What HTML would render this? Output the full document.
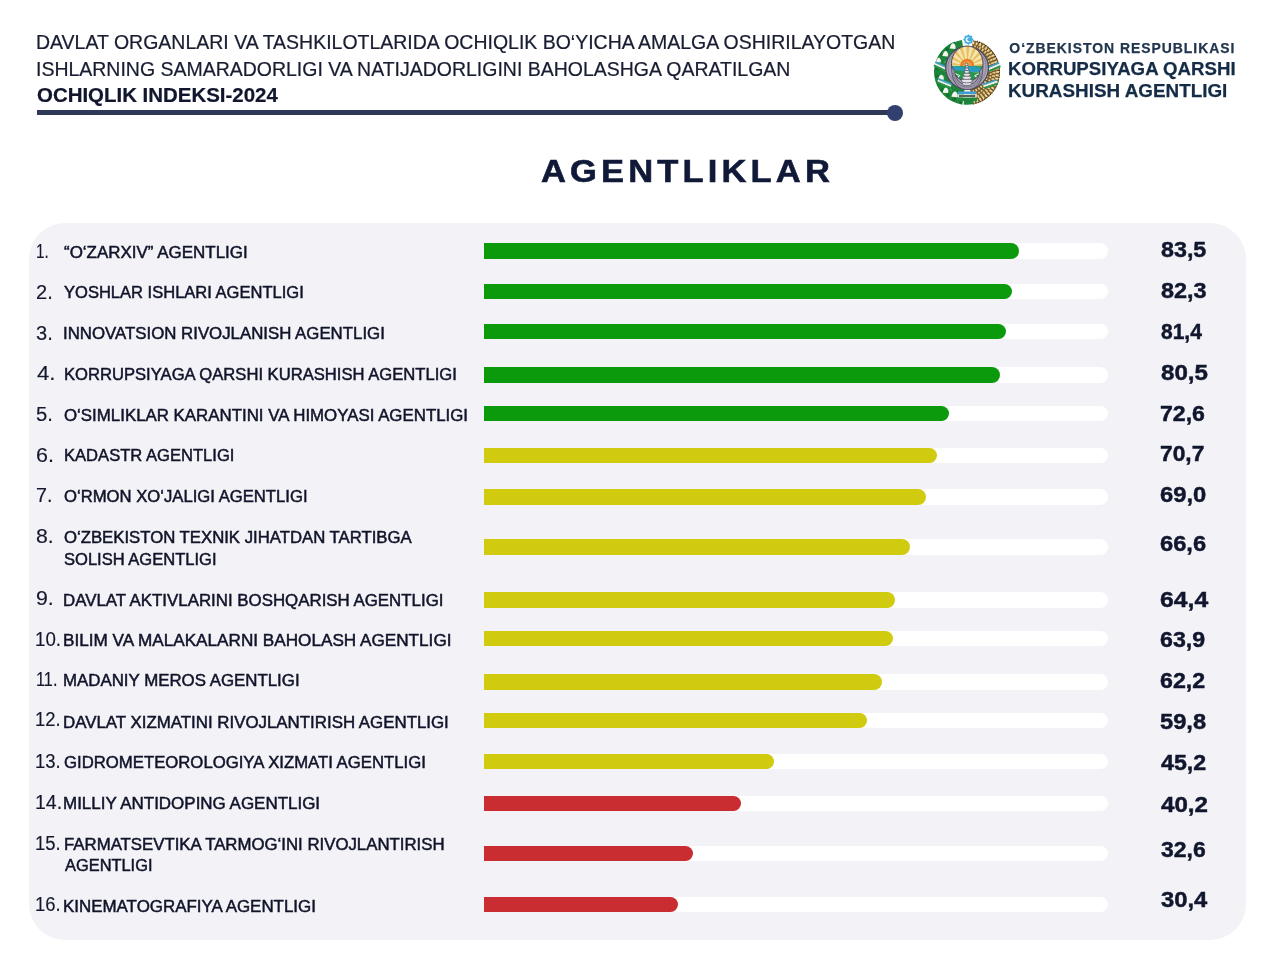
<!DOCTYPE html>
<html lang="uz">
<head>
<meta charset="utf-8">
<title>Ochiqlik indeksi-2024 — Agentliklar</title>
<style>

html,body{margin:0;padding:0;background:#fff;}
body{width:1280px;height:971px;position:relative;overflow:hidden;font-family:"Liberation Sans",sans-serif;}
header,main,.brand,ol,li{display:block;margin:0;padding:0;list-style:none;}
.t{position:absolute;display:block;white-space:nowrap;line-height:1;margin:0;padding:0;transform-origin:0 0;font-family:"Liberation Sans",sans-serif;}
.panel{position:absolute;left:29px;top:223px;width:1217px;height:717px;background:#f3f2f6;border-radius:36px;}
.rule{position:absolute;left:37px;top:110px;width:858px;height:4.5px;background:#2f3957;}
.dot{position:absolute;left:886.5px;top:104.5px;width:16px;height:16px;border-radius:50%;background:#31406f;}
.lb{-webkit-text-stroke:0.5px #10142a;}
.vl{-webkit-text-stroke:0.45px #10162e;}
.ttl{-webkit-text-stroke:0.6px #101a38;}
.hd{-webkit-text-stroke:0.22px currentColor;}
.lg{-webkit-text-stroke:0.25px currentColor;}
.nm{-webkit-text-stroke:0.15px #14182e;}
.track{position:absolute;left:484px;width:624px;background:#fff;border-radius:0 8px 8px 0;}
.fill{position:absolute;left:0;top:0;height:100%;border-radius:0 8px 8px 0;}

</style>
</head>
<body>
<header>
<p class="t hd" style="left:35.62px;top:33.23px;font-size:19.33px;font-weight:400;color:#191d31;letter-spacing:0.000px;transform:scaleX(1.0080);">DAVLAT ORGANLARI VA TASHKILOTLARIDA OCHIQLIK BO‘YICHA AMALGA OSHIRILAYOTGAN</p>
<p class="t hd" style="left:36.15px;top:59.53px;font-size:19.33px;font-weight:400;color:#191d31;letter-spacing:0.000px;transform:scaleX(1.0077);">ISHLARNING SAMARADORLIGI VA NATIJADORLIGINI BAHOLASHGA QARATILGAN</p>
<p class="t hd" style="left:36.85px;top:86.23px;font-size:19.33px;font-weight:700;color:#11162d;letter-spacing:0.000px;transform:scaleX(1.0575);">OCHIQLIK INDEKSI-2024</p>
<div class="rule"></div><div class="dot"></div>
<div class="brand">
<svg class="emblem" style="position:absolute;left:925px;top:28px" width="85" height="82" viewBox="925 28 85 82">
<path d="M956.81 46.78A27.2 27.2 0 0 0 963.21 98.94" fill="none" stroke="#1e843b" stroke-width="11.5" stroke-linecap="butt"/>
<path d="M962.56 43.95A28.4 28.4 0 0 0 955.45 46.06" fill="none" stroke="#1e843b" stroke-width="8"/>
<path d="M954.64 44.23A30.4 30.4 0 0 0 961.72 101.94" fill="none" stroke="#14702f" stroke-width="3.5" stroke-dasharray="3 4.5"/>
<path d="M956.57 50.61A23.8 23.8 0 0 0 962.05 95.28" fill="none" stroke="#2fa352" stroke-width="2.5" stroke-dasharray="2.5 5"/>
<path d="M977.19 46.78A27.2 27.2 0 0 1 971.72 98.79" fill="none" stroke="#7a5a28" stroke-width="11.5"/>
<path d="M972.42 44.12A28.4 28.4 0 0 1 978.55 46.06" fill="none" stroke="#7a5a28" stroke-width="8"/>
<path d="M972.69 42.75A29.8 29.8 0 0 1 979.12 44.78" fill="none" stroke="#ecd9a0" stroke-width="2.6" stroke-dasharray="1.7 1.5"/>
<path d="M972.53 45.98A26.599999999999998 26.599999999999998 0 0 1 977.82 47.70" fill="none" stroke="#e2c988" stroke-width="2.4" stroke-dasharray="1.6 1.5" stroke-dashoffset="1.4"/>
<path d="M979.41 44.14A30.5 30.5 0 0 1 973.34 101.83" fill="none" stroke="#ecd9a0" stroke-width="3.4" stroke-dasharray="1.8 1.6"/>
<path d="M977.55 47.15A27.0 27.0 0 0 1 972.15 98.50" fill="none" stroke="#e2c988" stroke-width="3" stroke-dasharray="1.7 1.6" stroke-dashoffset="1.6"/>
<path d="M975.77 50.30A23.4 23.4 0 0 1 971.06 95.04" fill="none" stroke="#ecd9a0" stroke-width="2.6" stroke-dasharray="1.6 1.6"/>
<path d="M977.01 41.19A32.4 32.4 0 0 1 972.63 103.91" fill="none" stroke="#4a3416" stroke-width="1.2" stroke-dasharray="1 1.4"/>
<path d="M948.00 72.00A19 19 0 0 0 964.36 90.82" fill="none" stroke="#1e843b" stroke-width="8"/>
<path d="M986.00 72.00A19 19 0 0 1 970.30 90.71" fill="none" stroke="#7a5a28" stroke-width="8"/>
<path d="M987.09 75.54A20.4 20.4 0 0 1 971.24 91.95" fill="none" stroke="#ecd9a0" stroke-width="2.4" stroke-dasharray="1.5 1.5"/>
<path d="M949.7 48.6Q950.9 43.0 953.7 43.3Q956.5 45.8 955.3 48.9Z" fill="#f4f6ee"/>
<path d="M942.3 56.1Q943.5 50.7 946.2 51.0Q948.9 53.4 947.7 56.4Z" fill="#f4f6ee"/>
<path d="M935.9 62.3Q937.0 57.4 939.4 57.7Q941.8 59.9 940.8 62.6Z" fill="#f4f6ee"/>
<path d="M938.0 79.9Q939.2 74.5 941.9 74.8Q944.6 77.2 943.4 80.2Z" fill="#f4f6ee"/>
<path d="M942.6 92.7Q943.8 87.3 946.5 87.6Q949.2 90.0 948.0 93.0Z" fill="#f4f6ee"/>
<path d="M951.4 96.8Q952.7 91.1 955.6 91.4Q958.4 94.0 957.2 97.2Z" fill="#f4f6ee"/>
<path d="M935.36 62.17L946.96 67.57" stroke="#3f9fc9" stroke-width="2.00" fill="none"/><path d="M934.60 63.80L946.20 69.20" stroke="#f2f3ea" stroke-width="2.00" fill="none"/><path d="M933.84 65.43L945.44 70.83" stroke="#2a9447" stroke-width="2.00" fill="none"/>
<path d="M938.29 78.94L951.69 84.54" stroke="#3f9fc9" stroke-width="2.00" fill="none"/><path d="M937.60 80.60L951.00 86.20" stroke="#f2f3ea" stroke-width="2.00" fill="none"/><path d="M936.91 82.26L950.31 87.86" stroke="#2a9447" stroke-width="2.00" fill="none"/>
<path d="M987.70 67.74L999.10 62.94" stroke="#3f9fc9" stroke-width="2.00" fill="none"/><path d="M988.40 69.40L999.80 64.60" stroke="#f2f3ea" stroke-width="2.00" fill="none"/><path d="M989.10 71.06L1000.50 66.26" stroke="#2a9447" stroke-width="2.00" fill="none"/>
<path d="M982.84 84.69L996.84 80.09" stroke="#3f9fc9" stroke-width="2.00" fill="none"/><path d="M983.40 86.40L997.40 81.80" stroke="#f2f3ea" stroke-width="2.00" fill="none"/><path d="M983.96 88.11L997.96 83.51" stroke="#2a9447" stroke-width="2.00" fill="none"/>
<circle cx="967.1" cy="68.0" r="21.4" fill="#aaa5b6" stroke="#4c4759" stroke-width="1.3"/>
<circle cx="967.1" cy="67.2" r="19.0" fill="none" stroke="#676279" stroke-width="0.9" stroke-dasharray="1.2 0.8"/>
<clipPath id="inner"><ellipse cx="967.25" cy="63.6" rx="15.8" ry="17.6"/></clipPath>
<g clip-path="url(#inner)">
<rect x="948" y="44" width="40" height="40" fill="#f4e4ac"/>
<path d="M967.2 65.9L941.26 64.18L941.79 60.41ZM967.2 65.9L943.60 54.99L945.44 51.66ZM967.2 65.9L949.07 47.26L951.99 44.81ZM967.2 65.9L956.96 42.00L960.56 40.76ZM967.2 65.9L966.20 39.92L970.01 40.05ZM967.2 65.9L975.58 41.29L979.08 42.78ZM967.2 65.9L983.84 45.92L986.58 48.57ZM967.2 65.9L989.90 53.22L991.51 56.67ZM967.2 65.9L992.93 62.19L993.20 65.99Z" fill="#e8bd5a"/>
<circle cx="967.2" cy="65.9" r="7.2" fill="#e9802c"/>
<circle cx="967.2" cy="65.9" r="4.4" fill="#f2a040"/>
<rect x="948" y="65.9" width="40" height="6.2" fill="#2a9cc0"/>
<path d="M948 67.4Q955 66.0 960 67.2T967 66.6T975 67.2T988 67.0V65.9H948Z" fill="#2d9f76"/>
<path d="M948 71.2Q958 69.6 967 71.4T988 71.0V90H948Z" fill="#27964a"/>
<path d="M954.5 73.2l5 2.4-3.4 3.6M979.9 73.2l-5 2.4 3.4 3.6" stroke="#e4f3e6" stroke-width="1.1" fill="none"/>
</g>
<ellipse cx="967.25" cy="63.6" rx="15.8" ry="17.6" fill="none" stroke="#4c4759" stroke-width="1.0"/>
<path d="M951.6 66.5C951.4 83 958.4 89.6 967.2 89.6C976 89.6 983 83 982.8 66.5L979.6 71.2C979.2 79.6 974.6 84.4 967.2 84.4C959.8 84.4 955.2 79.6 954.8 71.2Z" fill="#9b96a8" stroke="#4c4759" stroke-width="0.8"/>
<path d="M953.4 73C954.4 81.6 959.4 87 967.2 87C975 87 980 81.6 981 73" fill="none" stroke="#5d5870" stroke-width="0.7" stroke-dasharray="0.9 0.8"/>
<ellipse cx="966.9" cy="83.8" rx="4.6" ry="1.8" fill="#e6e6ea" stroke="#4f4c5a" stroke-width="0.7"/>
<ellipse cx="966.9" cy="80.8" rx="5.6" ry="2.1" fill="#e6e6ea" stroke="#4f4c5a" stroke-width="0.7"/>
<ellipse cx="966.9" cy="77.6" rx="4.5" ry="1.9" fill="#e6e6ea" stroke="#4f4c5a" stroke-width="0.7"/>
<ellipse cx="966.9" cy="74.6" rx="3.5" ry="1.7" fill="#e6e6ea" stroke="#4f4c5a" stroke-width="0.7"/>
<ellipse cx="966.9" cy="71.8" rx="2.6" ry="1.5" fill="#e6e6ea" stroke="#4f4c5a" stroke-width="0.7"/>
<ellipse cx="966.9" cy="69.2" rx="1.9" ry="1.4" fill="#e6e6ea" stroke="#4f4c5a" stroke-width="0.7"/>
<ellipse cx="966.9" cy="66.6" rx="1.3" ry="1.3" fill="#e6e6ea" stroke="#4f4c5a" stroke-width="0.7"/>
<circle cx="966.5" cy="64.4" r="1.4" fill="#dcdce2" stroke="#3f3c4a" stroke-width="0.6"/>
<rect x="958.0" y="91.4" width="18.2" height="3.0" fill="#3f9fd0"/>
<rect x="957.4" y="94.4" width="19.4" height="3.2" fill="#e6e8d8"/>
<rect x="959.0" y="95.2" width="16.2" height="1.6" fill="#34443a"/>
<rect x="957.0" y="97.6" width="20.2" height="3.6" fill="#238a40"/>
<path d="M963.90 101.54A29.7 29.7 0 0 0 973.17 101.05" fill="none" stroke="#1e843b" stroke-width="6"/>
<polygon points="968.40,34.30 969.97,35.81 972.15,35.85 972.19,38.03 973.70,39.60 972.19,41.17 972.15,43.35 969.97,43.39 968.40,44.90 966.83,43.39 964.65,43.35 964.61,41.17 963.10,39.60 964.61,38.03 964.65,35.85 966.83,35.81" fill="#45aee0"/>
<circle cx="968.4" cy="39.6" r="2.7" fill="#ffffff"/>
<circle cx="969.4" cy="39.4" r="2.1" fill="#45aee0"/>
</svg>
<p class="t lg" style="left:1009.33px;top:41.59px;font-size:13.95px;font-weight:700;color:#22364e;letter-spacing:0.976px;transform:scaleX(1.0000);">O‘ZBEKISTON RESPUBLIKASI</p>
<p class="t lg" style="left:1008.35px;top:60.30px;font-size:18.31px;font-weight:700;color:#152c47;letter-spacing:0.000px;transform:scaleX(1.0192);">KORRUPSIYAGA QARSHI</p>
<p class="t lg" style="left:1008.31px;top:82.45px;font-size:18.6px;font-weight:700;color:#152c47;letter-spacing:0.000px;transform:scaleX(1.0142);">KURASHISH AGENTLIGI</p>
</div>
</header>
<main>
<h1 class="t ttl" style="left:541.20px;top:154.92px;font-size:31.98px;font-weight:700;color:#101a38;letter-spacing:3.835px;transform:scaleX(1.0800);">AGENTLIKLAR</h1>
<div class="panel"></div>
<ol class="rows">
<li>
<span class="t nm" style="left:36.04px;top:241.91px;font-size:19.48px;font-weight:400;color:#14182e;letter-spacing:0.000px;transform:scaleX(0.7844);">1.</span>
<span class="t lb" style="left:64.03px;top:243.88px;font-size:17.15px;font-weight:400;color:#10142a;letter-spacing:0.000px;transform:scaleX(0.9890);">“O‘ZARXIV” AGENTLIGI</span>
<div class="track" style="top:243px;height:16px"><div class="fill" style="width:534.75px;background:#0a9a0c"></div></div>
<span class="t vl" style="left:1160.73px;top:238.84px;font-size:21.8px;font-weight:700;color:#10162e;letter-spacing:0.000px;transform:scaleX(1.0681);">83,5</span>
</li>
<li>
<span class="t nm" style="left:35.67px;top:282.51px;font-size:19.48px;font-weight:400;color:#14182e;letter-spacing:0.000px;transform:scaleX(1.0312);">2.</span>
<span class="t lb" style="left:64.19px;top:284.48px;font-size:17.15px;font-weight:400;color:#10142a;letter-spacing:0.000px;transform:scaleX(0.9644);">YOSHLAR ISHLARI AGENTLIGI</span>
<div class="track" style="top:284px;height:15.300000000000011px"><div class="fill" style="width:527.6px;background:#0a9a0c"></div></div>
<span class="t vl" style="left:1160.73px;top:279.94px;font-size:21.8px;font-weight:700;color:#10162e;letter-spacing:0.000px;transform:scaleX(1.0747);">82,3</span>
</li>
<li>
<span class="t nm" style="left:36.42px;top:323.51px;font-size:19.48px;font-weight:400;color:#14182e;letter-spacing:0.000px;transform:scaleX(1.0314);">3.</span>
<span class="t lb" style="left:63.22px;top:324.73px;font-size:17.15px;font-weight:400;color:#10142a;letter-spacing:0.000px;transform:scaleX(0.9813);">INNOVATSION RIVOJLANISH AGENTLIGI</span>
<div class="track" style="top:324px;height:15.300000000000011px"><div class="fill" style="width:521.9px;background:#0a9a0c"></div></div>
<span class="t vl" style="left:1160.75px;top:320.64px;font-size:21.8px;font-weight:700;color:#10162e;letter-spacing:0.000px;transform:scaleX(0.9636);">81,4</span>
</li>
<li>
<span class="t nm" style="left:37.16px;top:364.31px;font-size:19.48px;font-weight:400;color:#14182e;letter-spacing:0.012px;transform:scaleX(1.1400);">4.</span>
<span class="t lb" style="left:63.52px;top:366.48px;font-size:17.15px;font-weight:400;color:#10142a;letter-spacing:0.000px;transform:scaleX(0.9688);">KORRUPSIYAGA QARSHI KURASHISH AGENTLIGI</span>
<div class="track" style="top:367px;height:15.5px"><div class="fill" style="width:516px;background:#0a9a0c"></div></div>
<span class="t vl" style="left:1160.66px;top:362.44px;font-size:21.8px;font-weight:700;color:#10162e;letter-spacing:0.000px;transform:scaleX(1.1071);">80,5</span>
</li>
<li>
<span class="t nm" style="left:36.21px;top:404.81px;font-size:19.48px;font-weight:400;color:#14182e;letter-spacing:0.000px;transform:scaleX(1.0392);">5.</span>
<span class="t lb" style="left:64.46px;top:406.98px;font-size:17.15px;font-weight:400;color:#10142a;letter-spacing:0.000px;transform:scaleX(0.9835);">O‘SIMLIKLAR KARANTINI VA HIMOYASI AGENTLIGI</span>
<div class="track" style="top:405.5px;height:15.25px"><div class="fill" style="width:464.75px;background:#0a9a0c"></div></div>
<span class="t vl" style="left:1159.79px;top:403.14px;font-size:21.8px;font-weight:700;color:#10162e;letter-spacing:0.000px;transform:scaleX(1.0598);">72,6</span>
</li>
<li>
<span class="t nm" style="left:36.16px;top:445.51px;font-size:19.48px;font-weight:400;color:#14182e;letter-spacing:0.000px;transform:scaleX(1.1036);">6.</span>
<span class="t lb" style="left:63.53px;top:446.73px;font-size:17.15px;font-weight:400;color:#10142a;letter-spacing:0.000px;transform:scaleX(0.9672);">KADASTR AGENTLIGI</span>
<div class="track" style="top:447.5px;height:15.5px"><div class="fill" style="width:453px;background:#d0cb0e"></div></div>
<span class="t vl" style="left:1159.87px;top:442.94px;font-size:21.8px;font-weight:700;color:#10162e;letter-spacing:0.000px;transform:scaleX(1.0460);">70,7</span>
</li>
<li>
<span class="t nm" style="left:35.66px;top:486.01px;font-size:19.48px;font-weight:400;color:#14182e;letter-spacing:0.000px;transform:scaleX(1.0106);">7.</span>
<span class="t lb" style="left:63.50px;top:488.48px;font-size:17.15px;font-weight:400;color:#10142a;letter-spacing:0.000px;transform:scaleX(0.9722);">O‘RMON XO‘JALIGI AGENTLIGI</span>
<div class="track" style="top:489.25px;height:15.25px"><div class="fill" style="width:441.75px;background:#d0cb0e"></div></div>
<span class="t vl" style="left:1160.20px;top:483.64px;font-size:21.8px;font-weight:700;color:#10162e;letter-spacing:0.000px;transform:scaleX(1.0909);">69,0</span>
</li>
<li>
<span class="t nm" style="left:35.64px;top:527.01px;font-size:19.48px;font-weight:400;color:#14182e;letter-spacing:0.000px;transform:scaleX(1.0925);">8.</span>
<span class="t lb" style="left:64.48px;top:528.58px;font-size:17.15px;font-weight:400;color:#10142a;letter-spacing:0.000px;transform:scaleX(0.9761);">O‘ZBEKISTON TEXNIK JIHATDAN TARTIBGA</span>
<span class="t lb" style="left:63.90px;top:551.18px;font-size:17.15px;font-weight:400;color:#10142a;letter-spacing:0.000px;transform:scaleX(0.9648);">SOLISH AGENTLIGI</span>
<div class="track" style="top:539.25px;height:15.25px"><div class="fill" style="width:426px;background:#d0cb0e"></div></div>
<span class="t vl" style="left:1160.21px;top:532.54px;font-size:21.8px;font-weight:700;color:#10162e;letter-spacing:0.000px;transform:scaleX(1.0858);">66,6</span>
</li>
<li>
<span class="t nm" style="left:35.60px;top:589.26px;font-size:19.48px;font-weight:400;color:#14182e;letter-spacing:0.000px;transform:scaleX(1.0952);">9.</span>
<span class="t lb" style="left:63.49px;top:592.08px;font-size:17.15px;font-weight:400;color:#10142a;letter-spacing:0.000px;transform:scaleX(0.9838);">DAVLAT AKTIVLARINI BOSHQARISH AGENTLIGI</span>
<div class="track" style="top:591.75px;height:15.75px"><div class="fill" style="width:411px;background:#d0cb0e"></div></div>
<span class="t vl" style="left:1160.02px;top:588.54px;font-size:21.8px;font-weight:700;color:#10162e;letter-spacing:0.000px;transform:scaleX(1.1348);">64,4</span>
</li>
<li>
<span class="t nm" style="left:35.42px;top:629.51px;font-size:19.48px;font-weight:400;color:#14182e;letter-spacing:0.000px;transform:scaleX(0.9612);">10.</span>
<span class="t lb" style="left:63.47px;top:632.23px;font-size:17.15px;font-weight:400;color:#10142a;letter-spacing:0.000px;transform:scaleX(1.0004);">BILIM VA MALAKALARNI BAHOLASH AGENTLIGI</span>
<div class="track" style="top:630.5px;height:15.25px"><div class="fill" style="width:408.5px;background:#d0cb0e"></div></div>
<span class="t vl" style="left:1160.29px;top:628.84px;font-size:21.8px;font-weight:700;color:#10162e;letter-spacing:0.000px;transform:scaleX(1.0623);">63,9</span>
</li>
<li>
<span class="t nm" style="left:35.86px;top:670.26px;font-size:19.48px;font-weight:400;color:#14182e;letter-spacing:0.000px;transform:scaleX(0.8369);">11.</span>
<span class="t lb" style="left:63.49px;top:671.73px;font-size:17.15px;font-weight:400;color:#10142a;letter-spacing:0.000px;transform:scaleX(0.9830);">MADANIY MEROS AGENTLIGI</span>
<div class="track" style="top:674.25px;height:15.75px"><div class="fill" style="width:398px;background:#d0cb0e"></div></div>
<span class="t vl" style="left:1160.29px;top:669.54px;font-size:21.8px;font-weight:700;color:#10162e;letter-spacing:0.000px;transform:scaleX(1.0634);">62,2</span>
</li>
<li>
<span class="t nm" style="left:35.47px;top:710.26px;font-size:19.48px;font-weight:400;color:#14182e;letter-spacing:0.000px;transform:scaleX(0.9497);">12.</span>
<span class="t lb" style="left:63.49px;top:713.98px;font-size:17.15px;font-weight:400;color:#10142a;letter-spacing:0.000px;transform:scaleX(0.9840);">DAVLAT XIZMATINI RIVOJLANTIRISH AGENTLIGI</span>
<div class="track" style="top:712.5px;height:15.5px"><div class="fill" style="width:383px;background:#d0cb0e"></div></div>
<span class="t vl" style="left:1160.20px;top:710.64px;font-size:21.8px;font-weight:700;color:#10162e;letter-spacing:0.000px;transform:scaleX(1.0864);">59,8</span>
</li>
<li>
<span class="t nm" style="left:35.47px;top:751.51px;font-size:19.48px;font-weight:400;color:#14182e;letter-spacing:0.000px;transform:scaleX(0.9497);">13.</span>
<span class="t lb" style="left:64.28px;top:753.73px;font-size:17.15px;font-weight:400;color:#10142a;letter-spacing:0.000px;transform:scaleX(0.9758);">GIDROMETEOROLOGIYA XIZMATI AGENTLIGI</span>
<div class="track" style="top:753.75px;height:15.5px"><div class="fill" style="width:290.25px;background:#d0cb0e"></div></div>
<span class="t vl" style="left:1160.53px;top:751.94px;font-size:21.8px;font-weight:700;color:#10162e;letter-spacing:0.000px;transform:scaleX(1.0635);">45,2</span>
</li>
<li>
<span class="t nm" style="left:35.31px;top:792.51px;font-size:19.48px;font-weight:400;color:#14182e;letter-spacing:0.000px;transform:scaleX(1.0028);">14.</span>
<span class="t lb" style="left:63.49px;top:794.73px;font-size:17.15px;font-weight:400;color:#10142a;letter-spacing:0.000px;transform:scaleX(0.9898);">MILLIY ANTIDOPING AGENTLIGI</span>
<div class="track" style="top:795.5px;height:15.75px"><div class="fill" style="width:256.5px;background:#c92d31"></div></div>
<span class="t vl" style="left:1160.53px;top:793.84px;font-size:21.8px;font-weight:700;color:#10162e;letter-spacing:0.000px;transform:scaleX(1.1068);">40,2</span>
</li>
<li>
<span class="t nm" style="left:35.47px;top:833.76px;font-size:19.48px;font-weight:400;color:#14182e;letter-spacing:0.000px;transform:scaleX(0.9497);">15.</span>
<span class="t lb" style="left:63.50px;top:836.48px;font-size:17.15px;font-weight:400;color:#10142a;letter-spacing:0.000px;transform:scaleX(0.9793);">FARMATSEVTIKA TARMOG‘INI RIVOJLANTIRISH</span>
<span class="t lb" style="left:64.71px;top:856.73px;font-size:17.15px;font-weight:400;color:#10142a;letter-spacing:0.000px;transform:scaleX(0.9566);">AGENTLIGI</span>
<div class="track" style="top:845.75px;height:15.5px"><div class="fill" style="width:209px;background:#c92d31"></div></div>
<span class="t vl" style="left:1160.75px;top:839.04px;font-size:21.8px;font-weight:700;color:#10162e;letter-spacing:0.000px;transform:scaleX(1.0525);">32,6</span>
</li>
<li>
<span class="t nm" style="left:35.47px;top:895.26px;font-size:19.48px;font-weight:400;color:#14182e;letter-spacing:0.000px;transform:scaleX(0.9497);">16.</span>
<span class="t lb" style="left:63.49px;top:898.48px;font-size:17.15px;font-weight:400;color:#10142a;letter-spacing:0.000px;transform:scaleX(0.9871);">KINEMATOGRAFIYA AGENTLIGI</span>
<div class="track" style="top:896.5px;height:15.5px"><div class="fill" style="width:193.5px;background:#c92d31"></div></div>
<span class="t vl" style="left:1160.72px;top:888.54px;font-size:21.8px;font-weight:700;color:#10162e;letter-spacing:0.000px;transform:scaleX(1.0910);">30,4</span>
</li>
</ol>
</main>
</body>
</html>
